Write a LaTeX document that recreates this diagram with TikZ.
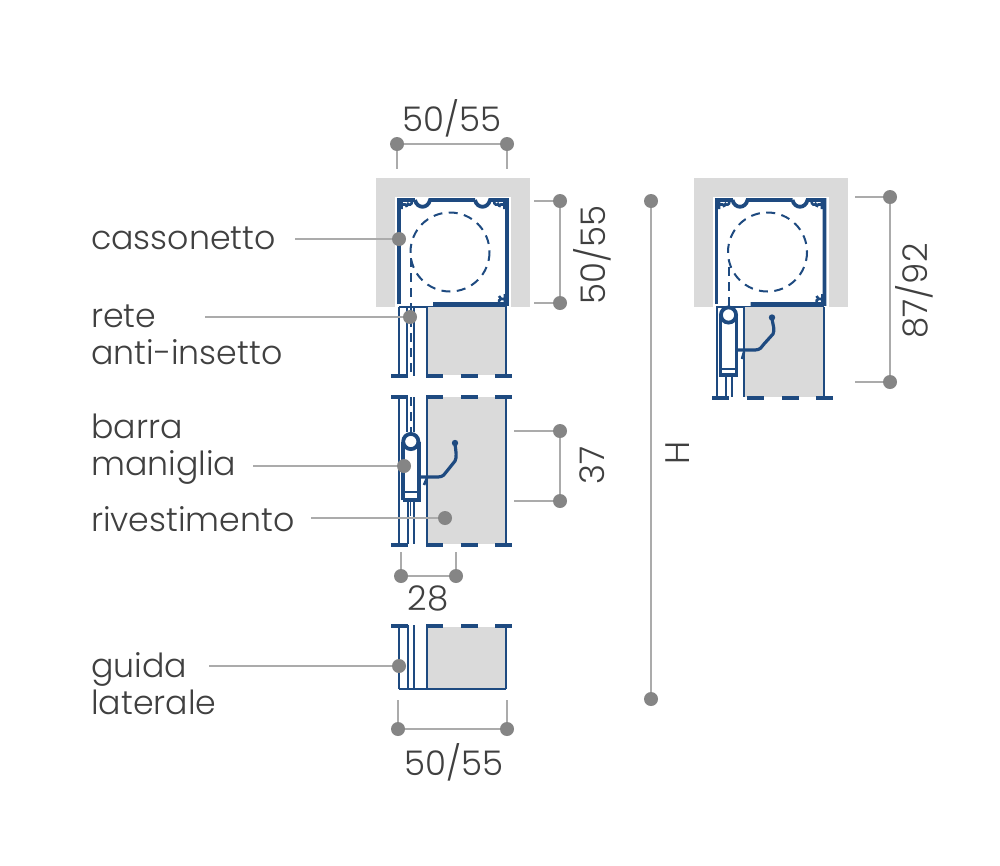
\documentclass[tikz,border=0pt]{standalone}
\usepackage{fontspec}
\setmainfont{Poppins Light}
\usetikzlibrary{calc}
\definecolor{navy}{HTML}{1E4A80}
\definecolor{wall}{HTML}{DADADA}
\definecolor{dotgray}{HTML}{858585}
\definecolor{linegray}{HTML}{ABABAB}
\definecolor{ink}{HTML}{404040}
\tikzset{
  dimdot/.style={shape=circle,draw=none,fill=dotgray,inner sep=0pt,minimum size=14pt},
  leader/.style={draw=linegray,line width=1.1pt},
  lab/.style={text=ink,font=\fontsize{33.2}{37}\selectfont,inner sep=0pt,align=left},
  dimlab/.style={text=ink,font=\fontsize{34}{37}\selectfont,inner sep=0pt},
  thickline/.style={draw=navy,line width=3.8pt},
  thinline/.style={draw=navy,line width=2pt},
  dashline/.style={draw=navy,line width=2pt,dash pattern=on 9pt off 6pt},
}
% white opening, grey wall and box profile, #1 = shift in x
\newcommand{\cassone}[1]{
\begin{scope}[xshift=#1pt]
\fill[wall] (376,178) rectangle (530,307);
\fill[white] (395,197) rectangle (511,307);
\draw[thickline] (399,304) -- (399,200) -- (415,200);
\draw[thickline] (415,200) .. controls (417,209) and (428,209) .. (430,200) -- (475,200);
\draw[thickline] (475,200) .. controls (477,209) and (488,209) .. (490,200) -- (507,200) -- (507,304) -- (433,304);
% corner details
\draw[navy,line width=2.6pt] (401.5,201) -- (401.5,209) (401,205) .. controls (405,204) and (406,204) .. (407,207) (407,203) .. controls (409,206) and (412,205) .. (412,201);
\draw[navy,line width=2.6pt] (504.5,201) -- (504.5,209) (505,205) .. controls (501,204) and (500,204) .. (499,207) (499,203) .. controls (497,206) and (494,205) .. (494,201);
\draw[navy,line width=2.6pt] (505,303) -- (505,294) (505,299) .. controls (501,299) and (500,299) .. (499,296) (499,303) .. controls (498,301) and (500,299) .. (501,299);
\draw[navy,line width=2pt,dash pattern=on 9pt off 6.4pt] (450,252) circle (39.5);
\end{scope}
}
% panel with its side lines, #1 = upper y, #2 = lower y
\newcommand{\panel}[2]{
\fill[wall] (427,#1) rectangle (506,#2);
\draw[thinline] (399,#1) -- (399,#2) (427,#1) -- (427,#2) (506,#1) -- (506,#2);
}
\newcommand{\dashrow}[2]{
\begin{scope}[xshift=#1pt]
\fill[navy] (391,#2-2) rectangle (408,#2+2);
\fill[navy] (426,#2-2) rectangle (443,#2+2);
\fill[navy] (460.5,#2-2) rectangle (478,#2+2);
\fill[navy] (495,#2-2) rectangle (512,#2+2);
\end{scope}
}
\begin{document}
\begin{tikzpicture}[x=1pt,y=-1pt]
\useasboundingbox (0,0) rectangle (1000,865);
\fill[white] (0,0) rectangle (1000,865);
% left box
\cassone{0}
\draw[thinline] (399,307) -- (507,307);
\draw[dashline] (410.5,258) -- (410.5,376);
% upper piece
\panel{307}{375}
\draw[thinline] (407,307) -- (407,376) (414,307) -- (414,376);
\dashrow{0}{376}
% middle piece
\panel{397}{544}
\draw[thinline] (407,397) -- (407,432) (414,397) -- (414,432);
\draw[dashline] (410.5,397) -- (410.5,432);
\draw[thickline] (403,500) -- (403,442) (418.6,442) -- (418.6,500) -- (403,500);
\draw[thickline] (410.8,441.5) circle (7.6);
\draw[thinline] (403,492) -- (419,492);
\draw[thinline] (407.5,500) -- (407.5,544) (413.5,500) -- (413.5,544);
\draw[navy,line width=0.8pt] (410.5,500) -- (410.5,516);
\draw[navy,line width=3.2pt,line join=round] (419,477) -- (438,477) .. controls (443,477) and (445,474) .. (447,471) -- (455,461) .. controls (457,457) and (456,452) .. (455,444);
\fill[navy] (455,443) circle (3.2);
\draw[navy,line width=2.6pt] (427,478) -- (424,485);
\dashrow{0}{397}
\dashrow{0}{545}
% lower piece
\panel{627}{689}
\draw[thinline] (407.5,625) -- (407.5,689) (414,625) -- (414,689) (399,689) -- (506,689);
\dashrow{0}{625.5}
% right box
\cassone{317.5}
\draw[thinline] (716,307) -- (824,307);
\draw[dashline] (728.5,267) -- (728.5,307);
\fill[wall] (744,307) rectangle (823.5,397);
\draw[thinline] (717,307) -- (717,397) (744,307) -- (744,397) (823.5,307) -- (823.5,397);
\draw[thickline] (720.5,316) -- (720.5,375) -- (736.5,375) -- (736.5,316);
\draw[thickline] (728.5,315) circle (7.6);
\draw[thinline] (720.5,369) -- (736.5,369);
\draw[thinline] (725.5,375) -- (725.5,397) (731.5,375) -- (731.5,397);
\draw[navy,line width=3.2pt,line join=round] (737,350) -- (755,350) .. controls (760,350) and (762,347) .. (764,344) -- (773,334) .. controls (775,330) and (773,325) .. (772,319);
\fill[navy] (772,317.5) circle (3.2);
\draw[navy,line width=2.6pt] (744,352) -- (742,359);
\dashrow{321}{398}
% labels and their leaders
\node[lab,anchor=base west] (cassonetto) at (91,249) {cassonetto};
\node[lab,anchor=base west] (rete) at (91,327) {rete};
\node[lab,anchor=base west] (antiinsetto) at (91,364) {anti-insetto};
\node[lab,anchor=base west] (barra) at (91,438) {barra};
\node[lab,anchor=base west] (maniglia) at (91,475) {maniglia};
\node[lab,anchor=base west] (rivestimento) at (91,531) {rivestimento};
\node[lab,anchor=base west] (guida) at (91,677) {guida};
\node[lab,anchor=base west] (laterale) at (91,714) {laterale};
\node[dimdot] (dotcass) at (399,239) {};
\node[dimdot] (dotrete) at (410,317) {};
\node[dimdot] (dotbarra) at (404,466) {};
\node[dimdot] (dotriv) at (445,518) {};
\node[dimdot] (dotguida) at (399,666) {};
\coordinate (startcass) at (295,239);
\coordinate (startrete) at (205,317);
\coordinate (startbarra) at (253,466);
\coordinate (startriv) at (311,518);
\coordinate (startguida) at (209,666);
\draw[leader] (startcass) -- (dotcass);
\draw[leader] (startrete) -- (dotrete);
\draw[leader] (startbarra) -- (dotbarra);
\draw[leader] (startriv) -- (dotriv);
\draw[leader] (startguida) -- (dotguida);
% dimension top
\node[dimdot] (topa) at (397,144) {};
\node[dimdot] (topb) at (507,144) {};
\coordinate (topa2) at (397,169);
\coordinate (topb2) at (507,169);
\draw[leader] (topa) -- (topb) (topa) -- (topa2) (topb) -- (topb2);
\node[dimlab] (toplab) at (452,118) {50/55};
% dimension box height
\node[dimdot] (boxa) at (560,201) {};
\node[dimdot] (boxb) at (560,303) {};
\coordinate (boxa2) at (534,201);
\coordinate (boxb2) at (534,303);
\draw[leader] (boxa) -- (boxb) (boxa) -- (boxa2) (boxb) -- (boxb2);
\node[dimlab,rotate=90] (boxlab) at (592,255) {50/55};
% dimension 37
\node[dimdot] (hda) at (560,431) {};
\node[dimdot] (hdb) at (560,501) {};
\coordinate (hda2) at (514,431);
\coordinate (hdb2) at (514,501);
\draw[leader] (hda) -- (hdb) (hda) -- (hda2) (hdb) -- (hdb2);
\node[dimlab,rotate=90] (hdlab) at (592,465) {37};
% dimension H
\node[dimdot] (ha) at (651,201) {};
\node[dimdot] (hb) at (651,699) {};
\draw[leader] (ha) -- (hb);
\node[dimlab,rotate=90] (hlab) at (678,453) {H};
% dimension 28
\node[dimdot] (wa) at (401,576) {};
\node[dimdot] (wb) at (456,576) {};
\coordinate (wa2) at (401,552);
\coordinate (wb2) at (456,552);
\draw[leader] (wa) -- (wb) (wa) -- (wa2) (wb) -- (wb2);
\node[dimlab] (wlab) at (428,598) {28};
% dimension bottom
\node[dimdot] (bota) at (398,729) {};
\node[dimdot] (botb) at (507,729) {};
\coordinate (bota2) at (398,700);
\coordinate (botb2) at (507,700);
\draw[leader] (bota) -- (botb) (bota) -- (bota2) (botb) -- (botb2);
\node[dimlab] (botlab) at (454,762) {50/55};
% dimension right box
\node[dimdot] (ra) at (890,197) {};
\node[dimdot] (rb) at (890,382) {};
\coordinate (ra2) at (855,197);
\coordinate (rb2) at (855,382);
\draw[leader] (ra) -- (rb) (ra) -- (ra2) (rb) -- (rb2);
\node[dimlab,rotate=90] (rlab) at (914,291) {87/92};
\end{tikzpicture}
\end{document}
